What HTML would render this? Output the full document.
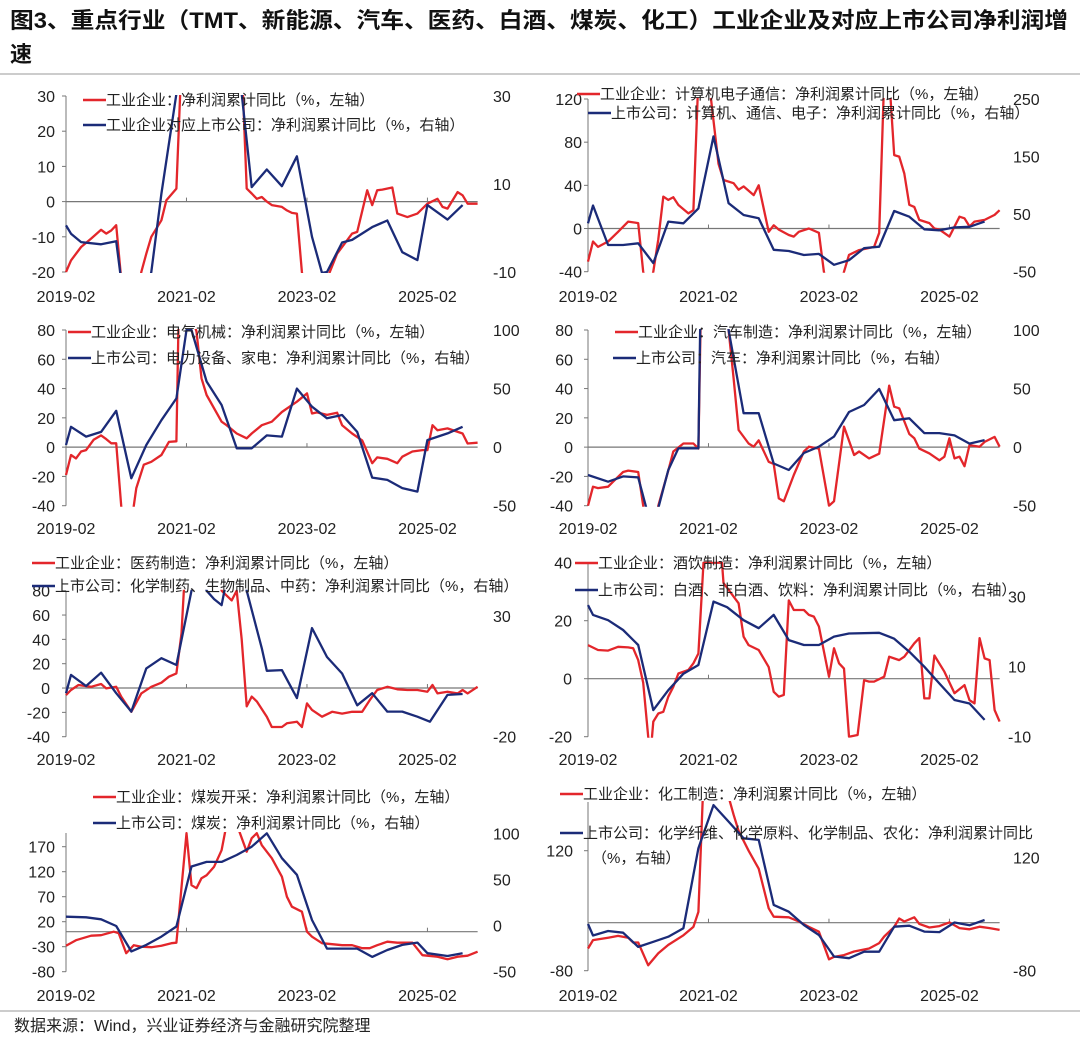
<!DOCTYPE html>
<html><head><meta charset="utf-8">
<style>
html,body{margin:0;padding:0;background:#fff;}
svg{display:block;font-family:"Liberation Sans","Noto Sans CJK SC",sans-serif;}
</style></head>
<body>
<svg id="chart" width="1080" height="1039" viewBox="0 0 1080 1039" xmlns="http://www.w3.org/2000/svg">
<rect x="0" y="0" width="1080" height="1039" fill="#fff"/>
<text x="10" y="28" font-size="22" font-weight="bold" fill="#111" textLength="1058" lengthAdjust="spacingAndGlyphs">图3、重点行业（TMT、新能源、汽车、医药、白酒、煤炭、化工）工业企业及对应上市公司净利润增</text>
<text x="10" y="62" font-size="22" font-weight="bold" fill="#111">速</text>
<line x1="0" y1="74" x2="1080" y2="74" stroke="#999" stroke-width="1"/>
<line x1="0" y1="1011" x2="1080" y2="1011" stroke="#bbb" stroke-width="1.5"/>
<text x="14" y="1031" font-size="16" fill="#222">数据来源：Wind，兴业证券经济与金融研究院整理</text>
<g id="panels"></g>
</svg>
<script>
// ---- data: [monthIndex since 2019-02, value] ----
const xTickLabels = ["2019-02","2021-02","2023-02","2025-02"];
const xTickMonths = [0,24,48,72];

const p1Red=[[0,-20],[1,-16.7],[3,-12.9],[5,-10.5],[7,-8],[8,-9.1],[9,-8.2],[10,-6.7],[11,-22],[12,-30],[14,-30],[15,-20],[16,-14.8],[17,-10],[19,-5.3],[20,0.4],[22,3.7],[23,40],[35,40],[36,3.7],[37,2.3],[38,0.8],[39,1.3],[40,0],[41,-1],[43,-1.5],[44,-2.5],[45,-3.2],[46,-3.4],[47,-20],[48,-30],[51,-30],[52,-22],[54,-14.8],[56,-11],[57,-9.1],[58,-8.6],[60,3.2],[61,-1],[62,3.2],[63,3.4],[65,4],[66,-3.4],[68,-4.4],[70,-3.4],[72,-0.6],[74,0.8],[75,-1.5],[76,-2],[78,2.7],[79,1.8],[80,-0.6],[82,-0.6]];
const p1Blue=[[0,0.6],[1,-1.3],[3,-3.2],[7,-3.7],[10,-3],[11,-11.9],[13,-15],[16,-15],[17,-10],[19,7.8],[22,30.5],[23,35],[34,35],[35,30.5],[37,9.3],[40,13.3],[43,9.5],[46,16.3],[49,-2],[51,-10.2],[52,-10],[55,-3.3],[57,-2.7],[61,0.2],[64,1.7],[67,-5.5],[70,-7.3],[72,5.2],[76,1.9],[79,5.2]];

const p2Red=[[0,-30.6],[1,-12],[2,-17],[4,-12],[6,-3],[8,6.4],[10,5],[11,-40],[12,-60],[13,-40],[14,-10],[15,29.6],[16,26.5],[17,29],[18,21.8],[20,14],[21,17],[22,140],[24,140],[26,60],[27,45],[29,42],[30,36],[31,39],[33,31],[34,40],[36,-3],[37,3],[38,-1],[40,-6],[41,-7.5],[42,-3],[44,0],[46,-4],[47,-40],[48,-60],[50,-60],[51,-40],[52,-24.4],[54,-20],[57,-17],[58,-4],[59,140],[60,140],[61,68],[62,66.6],[63,51],[64,22],[65,20],[66,8],[68,5],[69,0],[70,-1],[72,-7.5],[74,11],[75,9.5],[76,2],[77,6.4],[79,8],[81,12.6],[82,17]];
const p2Blue=[[0,34],[1,65],[4,-3.6],[7,-3.6],[10,-0.7],[13,-35],[16,37],[19,34],[22,60],[25,185],[28,69],[31,48.5],[34,43],[37,-12],[40,-14],[43,-21],[46,-19],[49,-38],[52,-30],[55,-9],[58,-6.5],[61,55.5],[64,45.6],[67,23.6],[70,22],[73,27],[76,28],[79,37]];

const p3Red=[[0,-19],[1,-5.4],[2,-7.7],[3,-3],[4,-2],[5.5,5],[7,8],[8,5.5],[9,2.6],[10,2.6],[11,-40],[11.5,-60],[13,-60],[13.5,-40],[14,-28],[15.5,-12],[17,-10],[19,-5.4],[20.5,3.6],[22,4],[22.5,100],[24,100],[26,79],[27,47],[28,35.6],[31,17.4],[32,15],[34,9.3],[36,6],[37,9.3],[39,15],[41,17.4],[43,24],[45,28.7],[46,31],[48,36.7],[49,23],[50,23.7],[52,22],[54,23.5],[55,15],[57,9.3],[59,4.6],[61,-11],[62,-7],[64,-8],[66,-11],[67,-6.5],[69,-3],[71,-2],[72,-2],[73,15],[74,11.5],[76,12.8],[79,9.3],[80,2.5],[82,3]];
const p3Blue=[[0,1.8],[1,17.4],[4,9],[7,13],[10,31],[13,-26.6],[16,1.8],[19,23],[22,41.6],[24,100],[25,100],[28,56],[31,36],[34,-1],[37,-1],[40,10],[43,9],[46,50],[49,34.5],[52,24.6],[55,27.4],[58,13],[61,-26],[64,-28],[67,-35],[70,-38],[72,6],[76,11.7],[79,17.4]];

const p4Red=[[0,-40],[1,-27],[2,-28],[4,-27],[5,-23.6],[7,-17],[8,-16],[10,-17],[11,-40],[11.5,-60],[13.5,-60],[14,-40],[16,-16],[17,-3],[19,2.5],[21,2.5],[22,-1],[22.5,100],[27.5,100],[28,80],[29,47],[30,11.7],[32,2.5],[33,0.3],[34,4.6],[36,-10],[37,-11.5],[38,-35],[39,-37],[41,-19],[43,-3],[44,0.3],[46,-1],[48,-40],[49,-37],[51,14],[53,-5.4],[54,-3],[56,-7.7],[58,-4.5],[60,42],[61,27.6],[62,26.5],[64,9],[65,6],[66,-1],[68,-4.3],[70,-9],[71,-6.5],[72,6],[73,-7.7],[74,-6.5],[75,-13],[76,1.4],[78,0.3],[79,3.6],[81,7],[82,0.3]];
const p4Blue=[[0,-23.8],[4,-29.5],[7,-25],[10,-25.8],[12,-58],[14,-52],[16,-19.5],[18,-1],[22,-1],[22.5,150],[27.5,150],[28,100],[31,29],[34,29],[37,-14],[40,-19.5],[43,-5],[46,0.4],[49,9],[52,30],[55,36],[58,49.6],[61,23],[64,24.6],[67,12],[70,12],[73,10],[76,3],[79,6]];

const p5Red=[[0,-5.8],[1,-1.6],[2.5,2.5],[5,1],[7,3.3],[8,-0.3],[10,1],[11,-7],[13,-19.5],[15,-4.4],[17,1],[19,4.4],[20.5,9.3],[22,12],[23,45],[24,120],[30,120],[31,80],[33,72],[34,80],[35,40],[36,-15],[37,-7],[38,-11],[40,-23.6],[41,-32],[43,-32],[44,-29],[46,-27.7],[47,-32],[48,-12.6],[49,-18],[51,-23.6],[53,-19.5],[55,-21],[57,-19.5],[59,-19.5],[60.5,-10],[62,-1.6],[64,1],[66,-1],[68,-1.6],[70,-1.6],[72,-3],[73,2.5],[74,-4.4],[76,-3],[78,-4.4],[79,-1.6],[80,-4.4],[82,1]];
const p5Blue=[[0,-2],[1,5.6],[4,1],[7,6.5],[10,-2],[13,-9.6],[16,8.3],[19,12.5],[22,9.7],[25,40.5],[26,50],[27,50],[28,40.5],[29.5,37],[31,34.5],[32,45],[35,50],[36,40.5],[39,16.6],[40,7.3],[43,7.6],[46,-4],[49,25],[52,13],[55,6.2],[58,-7],[61,-2],[64,-9.6],[67,-9.6],[70,-11.7],[72.5,-13.8],[76,-2.7],[79,-2.3]];

const p6Red=[[0,11.6],[2,9.9],[4,9.7],[6,11],[8,10.8],[9,10.5],[10,6.4],[11,-1.4],[12,-20],[12.5,-25],[13,-14.8],[14,-12],[15,-11.4],[16,-6.2],[17,-2.8],[18,1.8],[20,3],[21,5.3],[22,8.7],[23,40],[26.7,40],[27,33],[29,28.3],[30,26],[31,14.5],[32,11.6],[34,9.9],[36,4],[37,-4.5],[38,-6.2],[39,-5.6],[40,27],[41,23.7],[43,23.7],[44,22],[45,21.4],[46,18],[48,0.7],[49,10.5],[50,5.3],[51,3.5],[52,-20],[53.7,-19.4],[55,-0.5],[56,-1],[57,-1],[59,0.7],[60,7.6],[62,6.4],[63,7.6],[65,12.2],[66,14],[67,-6.8],[68,-6.8],[69,8],[71,2.4],[73,-5],[75,-2.2],[76,-7.4],[77,-8.5],[78,14],[79,7],[80,6.4],[81,-10.8],[82,-14.8]];
const p6Blue=[[0,27.6],[1,24.8],[4,23.3],[7,20.5],[10,16.2],[13,-2.4],[16,3.3],[19,8],[22,10.5],[25,28.6],[27.7,27],[31,23.3],[34,21],[37,24.8],[40,17.6],[43,16.2],[46,16.2],[49,18.6],[52,19.5],[58,19.7],[61,18],[64,14.3],[67,10],[70,5.2],[73,0.5],[76,-0.5],[79,-5.2]];

const p7Red=[[0,-28],[2,-17],[5,-8],[7,-7],[9.5,0],[10.5,-3],[12,-43],[13.5,-27],[15,-30],[17,-31],[19,-28],[21,-23],[22,-22],[24,197],[25,93],[26,87],[27,107],[28,113],[29.5,130],[31,163],[32,215],[34,215],[36,160],[37,187],[38,197],[39,173],[41,147],[43,110],[44,70],[45,50],[47,40],[48,0],[49,-10],[51,-23],[53,-25],[55,-27],[57,-27],[59,-33],[60.5,-33],[62,-27],[64,-20],[66,-22],[69,-22],[71,-47],[74,-50],[76,-55],[78,-50],[80,-48],[82,-40]];
const p7Blue=[[0,9.6],[4,9],[7,6.8],[10,-0.5],[13,-28],[16,-21],[19,-12],[22,-1],[25,64],[28,69],[31,69],[34,76.5],[37,85.5],[40,100],[43,73],[46,55],[49,6],[52,-25],[55,-25],[58,-25],[61,-34],[64,-26.5],[67,-21],[70,-18.5],[72,-30],[76,-33],[79,-30]];

const p8Red=[[0,-43],[1,-29],[4,-25],[6,-22],[8,-25],[9,-33],[10,-33],[12,-71],[14,-51],[16,-37],[19,-21],[21,-7],[22,18],[23,240],[27,240],[29,180],[30,153],[32,120],[34,90],[36,24],[37,10],[40,9],[42,2],[44,-7],[46,-15],[48,-61],[49,-57],[51,-54],[53,-48],[56,-43],[58,-34],[59,-23],[61,-7],[62,7],[63,2],[65,9],[66,-2],[68,-8],[70,-5.6],[72,0.5],[74,-9],[76,-11],[78,-6.7],[80,-9],[82,-12]];
const p8Blue=[[0,2.4],[1,-18],[4,-10],[7,-13],[10,-38],[13,-29],[16,-20],[19,-5],[22,136],[25,212],[28,183],[31,153.5],[34,150.6],[37,36],[40,24],[43,0.6],[46,-17],[49,-55],[52,-58],[55,-46.5],[58,-46.5],[61,-2.4],[64,-0.6],[67,-11],[70,-12],[73,5],[76,0],[79,9.4]];

const p1LeftTicks=[30,20,10,0,-10,-20], p1RightTicks=[30,10,-10];
const p2LeftTicks=[120,80,40,0,-40], p2RightTicks=[250,150,50,-50];
const p3LeftTicks=[80,60,40,20,0,-20,-40], p3RightTicks=[100,50,0,-50];
const p4LeftTicks=[80,60,40,20,0,-20,-40], p4RightTicks=[100,50,0,-50];
const p5LeftTicks=[80,60,40,20,0,-20,-40], p5RightTicks=[30,-20];
const p6LeftTicks=[40,20,0,-20], p6RightTicks=[30,10,-10];
const p7LeftTicks=[170,120,70,20,-30,-80], p7RightTicks=[100,50,0,-50];
const p8LeftTicks=[120,-80], p8RightTicks=[120,-80];

// ---- layout (positions/styles, not data) ----
const RED="#e3262b", BLUE="#1b2b78";
const panels=[
 {id:"tmt",x0:66,L:[30,96,-20,272],R:[30,96,-10,272],top:96,bot:272,lx:55,rx:493,xb:302,lt:p1LeftTicks,rt:p1RightTicks,red:p1Red,blue:p1Blue,
  leg:[[83,100,"工业企业：净利润累计同比（%，左轴）"],[83,125,"工业企业对应上市公司：净利润累计同比（%，右轴）"]]},
 {id:"computer-electronics",x0:588,L:[120,99,-40,271.7],R:[250,99,-50,271.7],top:99,bot:271.7,lx:582,rx:1013,xb:302,lt:p2LeftTicks,rt:p2RightTicks,red:p2Red,blue:p2Blue,
  leg:[[577,94,"工业企业：计算机电子通信：净利润累计同比（%，左轴）"],[588,113,"上市公司：计算机、通信、电子：净利润累计同比（%，右轴）"]]},
 {id:"electrical",x0:66,L:[80,330,-40,505.7],R:[100,330,-50,505.7],top:330,bot:505.7,lx:55,rx:493,xb:534,lt:p3LeftTicks,rt:p3RightTicks,red:p3Red,blue:p3Blue,
  leg:[[68,332,"工业企业：电气机械：净利润累计同比（%，左轴）"],[68,358,"上市公司：电力设备、家电：净利润累计同比（%，右轴）"]]},
 {id:"auto",x0:588,L:[80,330,-40,505.7],R:[100,330,-50,505.7],top:330,bot:505.7,lx:573,rx:1013,xb:534,lt:p4LeftTicks,rt:p4RightTicks,red:p4Red,blue:p4Blue,
  leg:[[615,332,"工业企业：汽车制造：净利润累计同比（%，左轴）"],[613,358,"上市公司：汽车：净利润累计同比（%，右轴）"]]},
 {id:"pharma",x0:66,L:[80,590.7,-40,736.7],R:[30,616,-20,736.7],top:590.7,bot:736.7,lx:50,rx:493,xb:765,lt:p5LeftTicks,rt:p5RightTicks,red:p5Red,blue:p5Blue,
  leg:[[32,563,"工业企业：医药制造：净利润累计同比（%，左轴）"],[32,586,"上市公司：化学制药、生物制品、中药：净利润累计同比（%，右轴）"]]},
 {id:"liquor",x0:588,L:[40,562.7,-20,736.7],R:[30,596.7,-10,736.7],top:562.7,bot:736.7,lx:572,rx:1008,xb:765,lt:p6LeftTicks,rt:p6RightTicks,red:p6Red,blue:p6Blue,
  leg:[[575,563,"工业企业：酒饮制造：净利润累计同比（%，左轴）"],[575,590,"上市公司：白酒、非白酒、饮料：净利润累计同比（%，右轴）"]]},
 {id:"coal",x0:66,L:[170,846.7,-80,971.7],R:[100,833.3,-50,971.7],top:833,bot:971.7,lx:55,rx:493,xb:1001,lt:p7LeftTicks,rt:p7RightTicks,red:p7Red,blue:p7Blue,
  leg:[[93,797,"工业企业：煤炭开采：净利润累计同比（%，左轴）"],[93,823,"上市公司：煤炭：净利润累计同比（%，右轴）"]]},
 {id:"chemical",x0:588,L:[120,850.7,-80,970.7],R:[120,857.3,-80,970.7],top:802,bot:970.7,lx:573,rx:1013,xb:1001,lt:p8LeftTicks,rt:p8RightTicks,red:p8Red,blue:p8Blue,
  leg:[[560,794,"工业企业：化工制造：净利润累计同比（%，左轴）"],[560,833,"上市公司：化学纤维、化学原料、化学制品、农化：净利润累计同比"],[592,858,"（%，右轴）",true]]}
];
const PX_PER_MONTH=5.02;
const NS="http://www.w3.org/2000/svg";
const root=document.getElementById("panels");
function mk(tag,attrs,parent){const e=document.createElementNS(NS,tag);for(const k in attrs)e.setAttribute(k,attrs[k]);(parent||root).appendChild(e);return e;}
function scale(s){return v=>s[1]+(v-s[0])*(s[3]-s[1])/(s[2]-s[0]);}

panels.forEach((p,i)=>{
  const g=mk("g",{});
  
  
  const xs=m=>p.x0+m*PX_PER_MONTH, yL=scale(p.L), yR=scale(p.R);
  const xEnd=xs(82);
  const clip=mk("clipPath",{id:"clip"+i},g);
  mk("rect",{x:p.x0-2,y:p.top-1,width:xEnd-p.x0+8,height:p.bot-p.top+2},clip);
  // left axis
  const ax=mk("line",{x1:p.x0,y1:p.top,x2:p.x0,y2:p.bot,stroke:"#777","stroke-width":1},g);
  
  
  p.lt.forEach(v=>{
    const y=yL(v);
    const tk=mk("line",{x1:p.x0-4,y1:y,x2:p.x0,y2:y,stroke:"#777","stroke-width":1},g);
    
    
    const t=mk("text",{x:p.lx,y:y+6,"font-size":16,"text-anchor":"end",fill:"#222"},g);
    t.textContent=v;
    
    
  });
  p.rt.forEach(v=>{
    const t=mk("text",{x:p.rx,y:yR(v)+6,"font-size":16,fill:"#222"},g);
    t.textContent=v;
    
    
  });
  // zero line
  const y0=yL(0);
  const zl=mk("line",{x1:p.x0,y1:y0,x2:xEnd,y2:y0,stroke:"#777","stroke-width":1.2},g);
  
  
  xTickMonths.forEach((m,k)=>{
    if(m>0){const tk=mk("line",{x1:xs(m),y1:y0-4,x2:xs(m),y2:y0,stroke:"#777","stroke-width":1},g);
      
      }
    const t=mk("text",{x:xs(m),y:p.xb,"font-size":16,"text-anchor":"middle",fill:"#222"},g);
    t.textContent=xTickLabels[k];
    
    
  });
  // series
  [[p.red,yL,RED,"red-series-line"],[p.blue,yR,BLUE,"blue-series-line"]].forEach(([d,ys,c,nm])=>{
    const pts=d.map(([m,v])=>xs(m).toFixed(1)+","+ys(v).toFixed(1)).join(" ");
    const pl=mk("polyline",{points:pts,fill:"none",stroke:c,"stroke-width":2.3,"stroke-linejoin":"round","clip-path":"url(#clip"+i+")"},g);
    
    
  });
  // legend
  p.leg.forEach(([x,y,txt,noLine],k)=>{
    const lg=mk("g",{},g);
    
    
    if(!noLine){mk("line",{x1:x,y1:y,x2:x+23,y2:y,stroke:k===0?RED:BLUE,"stroke-width":2.5},lg);}
    const t=mk("text",{x:noLine?x:x+23,y:y+5,"font-size":15,fill:"#222"},lg);
    t.textContent=txt;
  });
});
</script>
</body></html>
